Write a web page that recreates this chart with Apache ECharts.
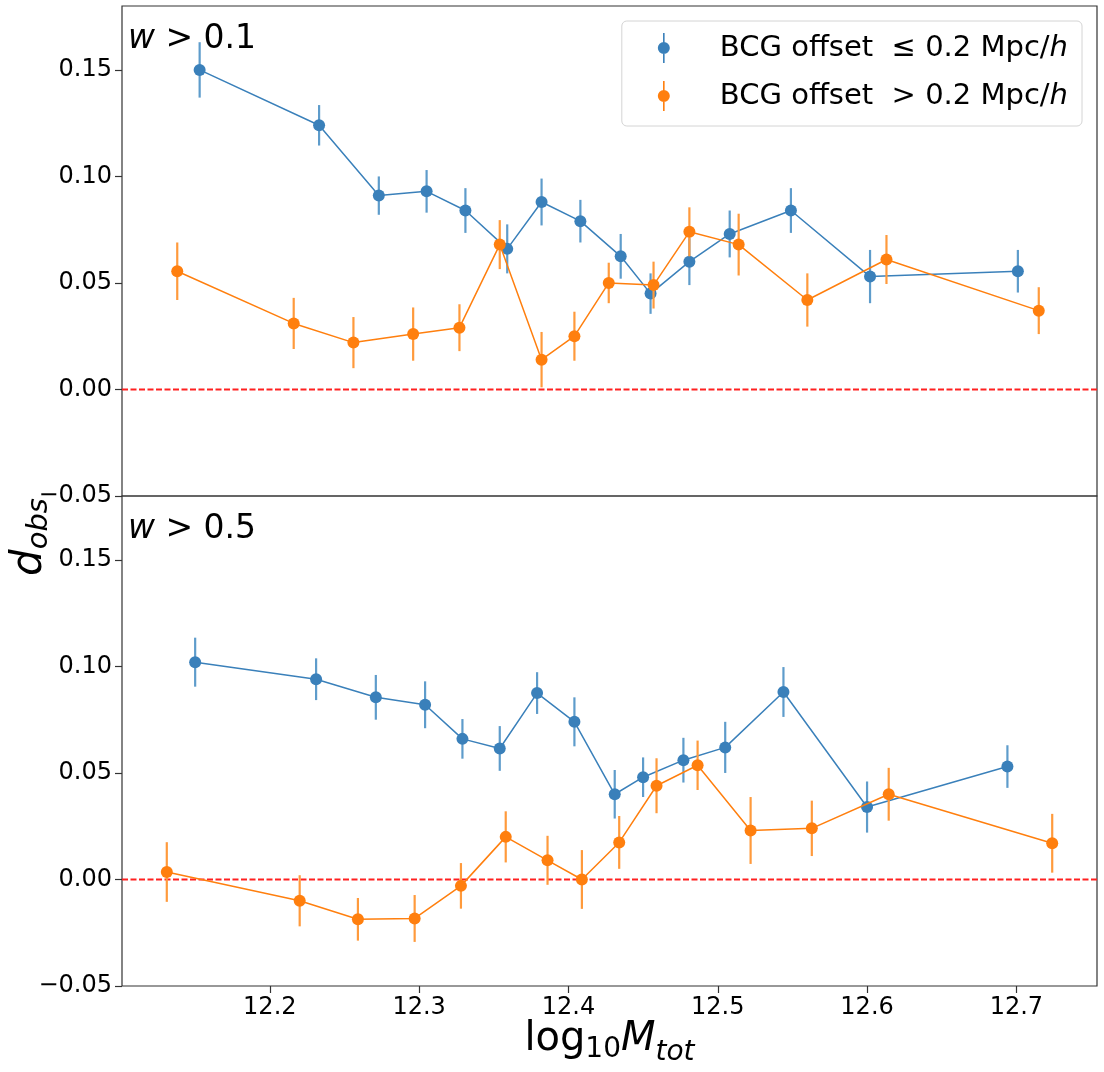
<!DOCTYPE html>
<html>
<head>
<meta charset="utf-8">
<script src="https://cdn.jsdelivr.net/npm/echarts@6/dist/echarts.min.js"></script>
<style>
  html, body { margin: 0; padding: 0; background: #fff; }
  #main { width: 1104px; height: 1072px; }
</style>
</head>
<body>
<div id="main"></div>
<script>
// 刻度与坐标范围
var xTicks = [12.2, 12.3, 12.4, 12.5, 12.6, 12.7];
var yTicks = [-0.05, 0, 0.05, 0.10, 0.15];
var xRange = [12.101, 12.754];
var yRange = [-0.05, 0.18];

// 上图 w > 0.1
var topBlueX = [12.153, 12.233, 12.273, 12.305, 12.331, 12.359, 12.382, 12.408, 12.435, 12.455, 12.481, 12.508, 12.549, 12.602, 12.701];
var topBlueY = [0.150, 0.124, 0.091, 0.093, 0.084, 0.066, 0.088, 0.079, 0.0625, 0.045, 0.060, 0.073, 0.084, 0.053, 0.0555];
var topBlueErr = [0.013, 0.0095, 0.009, 0.010, 0.0105, 0.0115, 0.011, 0.010, 0.0105, 0.0095, 0.011, 0.011, 0.0105, 0.0125, 0.010];

var topOrangeX = [12.138, 12.216, 12.256, 12.296, 12.327, 12.354, 12.382, 12.404, 12.427, 12.457, 12.481, 12.514, 12.560, 12.613, 12.715];
var topOrangeY = [0.0555, 0.031, 0.022, 0.026, 0.029, 0.068, 0.014, 0.025, 0.050, 0.049, 0.074, 0.068, 0.042, 0.061, 0.037];
var topOrangeErr = [0.0135, 0.012, 0.012, 0.0125, 0.011, 0.0115, 0.013, 0.0115, 0.0095, 0.011, 0.0115, 0.0145, 0.0125, 0.0115, 0.011];

// 下图 w > 0.5
var botBlueX = [12.150, 12.231, 12.271, 12.304, 12.329, 12.354, 12.379, 12.404, 12.431, 12.450, 12.477, 12.505, 12.544, 12.600, 12.694];
var botBlueY = [0.102, 0.094, 0.0855, 0.082, 0.066, 0.0615, 0.0875, 0.074, 0.040, 0.048, 0.056, 0.062, 0.088, 0.034, 0.053];
var botBlueErr = [0.0115, 0.0098, 0.0105, 0.011, 0.0093, 0.0105, 0.0098, 0.0115, 0.0114, 0.0093, 0.0105, 0.012, 0.0117, 0.012, 0.010];

var botOrangeX = [12.131, 12.220, 12.259, 12.297, 12.328, 12.358, 12.386, 12.409, 12.434, 12.459, 12.4865, 12.522, 12.563, 12.6145, 12.724];
var botOrangeY = [0.0035, -0.010, -0.0187, -0.0183, -0.003, 0.020, 0.009, 0.000, 0.0174, 0.044, 0.0536, 0.023, 0.024, 0.040, 0.017];
var botOrangeErr = [0.014, 0.012, 0.010, 0.011, 0.0107, 0.012, 0.0115, 0.0138, 0.0124, 0.0129, 0.0116, 0.0157, 0.013, 0.0124, 0.0138];

var BLUE = '#3a80ba', BLUE_ERR = '#5e9ccb';
var ORANGE = '#ff7f0e', ORANGE_ERR = '#ff9a3c';
var FONT = 'DejaVu Sans';

function zip3(xs, ys, es) {
    return xs.map(function (x, i) { return [x, ys[i], es[i]]; });
}
function zip2(xs, ys) {
    return xs.map(function (x, i) { return [x, ys[i]]; });
}

function errSeries(idx, xs, ys, es, color, z) {
    return {
        type: 'custom',
        xAxisIndex: idx,
        yAxisIndex: idx,
        z: z,
        silent: true,
        encode: { x: 0, y: 1 },
        data: zip3(xs, ys, es),
        renderItem: function (params, api) {
            var x = api.value(0), y = api.value(1), e = api.value(2);
            var p1 = api.coord([x, y - e]);
            var p2 = api.coord([x, y + e]);
            return {
                type: 'line',
                shape: { x1: p1[0], y1: p1[1], x2: p2[0], y2: p2[1] },
                style: { stroke: color, lineWidth: 2.2 }
            };
        }
    };
}

function lineSeries(idx, name, xs, ys, color, z) {
    return {
        type: 'line',
        name: name,
        xAxisIndex: idx,
        yAxisIndex: idx,
        z: z,
        data: zip2(xs, ys),
        symbol: 'circle',
        symbolSize: 12,
        showSymbol: true,
        color: color,
        itemStyle: { color: color },
        lineStyle: { color: color, width: 1.5 }
    };
}

function zeroSeries(idx) {
    return {
        type: 'line',
        xAxisIndex: idx,
        yAxisIndex: idx,
        z: 1,
        silent: true,
        symbol: 'none',
        data: [[xRange[0], 0], [xRange[1], 0]],
        lineStyle: { color: '#ff2020', width: 1.8, type: [6, 2.5] }
    };
}

function yFmt(v) {
    return (v < 0 ? '\u2212' : '') + Math.abs(v).toFixed(2);
}

function xAxisOf(idx, showLabels) {
    return {
        gridIndex: idx,
        type: 'value',
        min: xRange[0],
        max: xRange[1],
        axisLine: { show: false, onZero: false },
        splitLine: { show: false },
        axisTick: {
            show: showLabels,
            length: 7,
            customValues: xTicks,
            lineStyle: { color: '#333', width: 1.2 }
        },
        axisLabel: {
            show: showLabels,
            customValues: xTicks,
            fontSize: 24,
            fontFamily: FONT,
            color: '#000',
            margin: 10,
            formatter: function (v) { return v.toFixed(1); }
        }
    };
}

function yAxisOf(idx) {
    return {
        gridIndex: idx,
        type: 'value',
        min: yRange[0],
        max: yRange[1],
        axisLine: { show: false, onZero: false },
        splitLine: { show: false },
        axisTick: {
            show: true,
            length: 7,
            customValues: yTicks,
            lineStyle: { color: '#333', width: 1.2 }
        },
        axisLabel: {
            customValues: yTicks,
            fontSize: 24,
            fontFamily: FONT,
            color: '#000',
            margin: 10,
            formatter: yFmt
        }
    };
}

// 文字宽度测量
var mctx = document.createElement('canvas').getContext('2d');
function textW(str, size, italic) {
    mctx.font = (italic ? 'italic ' : '') + size + 'px "' + FONT + '"';
    return mctx.measureText(str).width;
}

// x 轴标题 log10 M_tot
var xl = [
    { t: 'log', s: 40, i: false, dy: 0 },
    { t: '10', s: 28, i: false, dy: 6 },
    { t: 'M', s: 40, i: true, dy: 0 },
    { t: 'tot', s: 28, i: true, dy: 9 }
];
var xlW = xl.reduce(function (a, p) { return a + textW(p.t, p.s, p.i); }, 0);
var xlX = 609.5 - xlW / 2;
var xlBase = 1053;
var xlabelParts = [];
xl.forEach(function (p) {
    xlabelParts.push({
        type: 'text',
        x: xlX,
        y: xlBase + p.dy - 0.34 * p.s,
        style: {
            text: p.t,
            fontSize: p.s,
            fontFamily: FONT,
            fontStyle: p.i ? 'italic' : 'normal',
            fill: '#000',
            align: 'left',
            verticalAlign: 'middle'
        }
    });
    xlX += textW(p.t, p.s, p.i);
});

// y 轴标题 d_obs (旋转)
var dW = textW('d', 42, true);
var oW = textW('obs', 29, true);
var ylStart = -(dW + oW) / 2;
var ylabel = {
    type: 'group',
    x: 44,
    y: 537,
    rotation: Math.PI / 2,
    children: [
        {
            type: 'text', x: ylStart, y: -0.34 * 42,
            style: { text: 'd', fontSize: 42, fontFamily: FONT, fontStyle: 'italic', fill: '#000', align: 'left', verticalAlign: 'middle' }
        },
        {
            type: 'text', x: ylStart + dW, y: 5 - 0.34 * 29,
            style: { text: 'obs', fontSize: 29, fontFamily: FONT, fontStyle: 'italic', fill: '#000', align: 'left', verticalAlign: 'middle' }
        }
    ]
};

function panelTitle(y, txt) {
    return {
        type: 'text',
        x: 128,
        y: y,
        style: {
            text: '{i|w} > ' + txt,
            fontSize: 33,
            fontFamily: FONT,
            fill: '#000',
            verticalAlign: 'middle',
            rich: {
                i: { fontSize: 33, fontFamily: FONT, fontStyle: 'italic', fill: '#000' }
            }
        }
    };
}

var chart = echarts.init(document.getElementById('main'));
chart.setOption({
    animation: false,
    backgroundColor: '#fff',
    grid: [
        { left: 122, top: 6, width: 975, height: 490, show: true, borderColor: '#333', borderWidth: 1.2, backgroundColor: 'transparent' },
        { left: 122, top: 496, width: 975, height: 490, show: true, borderColor: '#333', borderWidth: 1.2, backgroundColor: 'transparent' }
    ],
    xAxis: [xAxisOf(0, false), xAxisOf(1, true)],
    yAxis: [yAxisOf(0), yAxisOf(1)],
    legend: {
        data: ['le', 'gt'],
        orient: 'vertical',
        right: 22,
        top: 21,
        align: 'left',
        icon: 'path://M5.2,0h1.6v30h-1.6z M6,9a6,6 0 1 1 -0.01,0z',
        itemWidth: 12,
        itemHeight: 30,
        itemGap: 12,
        padding: [9, 14, 12, 36],
        backgroundColor: '#fff',
        borderColor: '#d4d4d4',
        borderWidth: 1,
        borderRadius: 5,
        selectedMode: false,
        formatter: function (name) {
            var op = name === 'le' ? '\u2264' : '>';
            return '{sp|}{t|BCG offset  ' + op + ' 0.2 Mpc/}{i|h}';
        },
        textStyle: {
            fontSize: 29,
            fontFamily: FONT,
            color: '#000',
            lineHeight: 36,
            rich: {
                sp: { width: 45 },
                t: { fontSize: 29, fontFamily: FONT, color: '#000' },
                i: { fontSize: 29, fontFamily: FONT, fontStyle: 'italic', color: '#000' }
            }
        }
    },
    graphic: [
        panelTitle(39, '0.1'),
        panelTitle(529, '0.5'),
        ylabel
    ].concat(xlabelParts),
    series: [
        zeroSeries(0),
        errSeries(0, topBlueX, topBlueY, topBlueErr, BLUE_ERR, 2),
        lineSeries(0, 'le', topBlueX, topBlueY, BLUE, 3),
        errSeries(0, topOrangeX, topOrangeY, topOrangeErr, ORANGE_ERR, 4),
        lineSeries(0, 'gt', topOrangeX, topOrangeY, ORANGE, 5),
        zeroSeries(1),
        errSeries(1, botBlueX, botBlueY, botBlueErr, BLUE_ERR, 2),
        lineSeries(1, 'le', botBlueX, botBlueY, BLUE, 3),
        errSeries(1, botOrangeX, botOrangeY, botOrangeErr, ORANGE_ERR, 4),
        lineSeries(1, 'gt', botOrangeX, botOrangeY, ORANGE, 5)
    ]
});
</script>
</body>
</html>
